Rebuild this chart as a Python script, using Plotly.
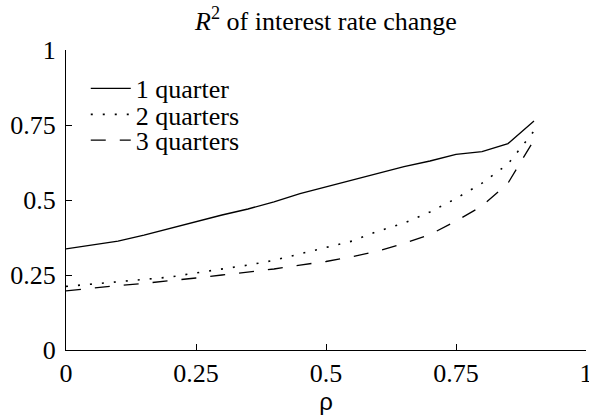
import plotly.graph_objects as go

rho = [0, 0.05, 0.1, 0.15, 0.2, 0.25, 0.3, 0.35, 0.4, 0.45, 0.5,
       0.55, 0.6, 0.65, 0.7, 0.75, 0.8, 0.85, 0.9]
q1 = [0.337, 0.350, 0.363, 0.383, 0.406, 0.428, 0.450, 0.470, 0.494, 0.521, 0.543,
      0.567, 0.589, 0.611, 0.630, 0.652, 0.661, 0.688, 0.763]
q2 = [0.212, 0.220, 0.228, 0.236, 0.243, 0.257, 0.270, 0.283, 0.299, 0.321, 0.342,
      0.363, 0.396, 0.423, 0.460, 0.505, 0.556, 0.620, 0.730]
q3 = [0.197, 0.207, 0.215, 0.222, 0.230, 0.240, 0.250, 0.260, 0.270, 0.283, 0.295,
      0.311, 0.330, 0.355, 0.385, 0.430, 0.480, 0.556, 0.700]
names = ["1 quarter", "2 quarters", "3 quarters"]
tickvals = [0, 0.25, 0.5, 0.75, 1]
ticktext = ["0", "0.25", "0.5", "0.75", "1"]

serif = "Liberation Serif"
FS = 26
serif_font = dict(family=serif, size=FS, color="black")

fig = go.Figure()
fig.add_trace(go.Scatter(x=rho, y=q1, mode="lines", name=names[0], legend="legend",
                         line=dict(color="black", width=1.3)))
fig.add_trace(go.Scatter(x=rho, y=q2, mode="lines", name=names[1], legend="legend2",
                         line=dict(color="black", width=1.6, dash="2px,10px")))
fig.add_trace(go.Scatter(x=rho, y=q3, mode="lines", name=names[2], legend="legend3",
                         line=dict(color="black", width=1.3, dash="15px,14px")))

leg_common = dict(x=0.038, xanchor="left", yanchor="middle",
                  bgcolor="rgba(0,0,0,0)", borderwidth=0,
                  font=serif_font, itemwidth=40)

fig.update_layout(
    width=589, height=420,
    margin=dict(l=66, r=3, t=50, b=70, autoexpand=False),
    paper_bgcolor="white", plot_bgcolor="white",
    font=serif_font,
    title=dict(text="<i>R</i><sup>2</sup> of interest rate change",
               x=0.5, xref="paper", xanchor="center",
               y=0.951, yref="container", yanchor="middle",
               automargin=False, font=serif_font),
    legend=dict(y=0.872, **leg_common),
    legend2=dict(y=0.785, **leg_common),
    legend3=dict(y=0.699, **leg_common),
    showlegend=True,
)
fig.update_xaxes(range=[0, 1], tickvals=tickvals, ticktext=ticktext,
                 tickfont=serif_font, automargin=False,
                 ticklabeloverflow="allow",
                 showgrid=False, zeroline=False, showline=True,
                 linecolor="black", linewidth=1.2,
                 ticks="inside", ticklen=6, tickcolor="black", tickwidth=1.2,
                 ticklabelstandoff=0,
                 title=dict(text="ρ", standoff=0,
                            font=dict(family="Liberation Sans", size=24, color="black")))
fig.update_yaxes(range=[0, 1], tickvals=tickvals, ticktext=ticktext,
                 tickfont=serif_font, automargin=False,
                 showgrid=False, zeroline=False, showline=True,
                 linecolor="black", linewidth=1.2,
                 ticks="inside", ticklen=6, tickcolor="black", tickwidth=1.2,
                 ticklabelstandoff=4)

fig.write_html(
    "out.html",
    config={"displayModeBar": False},
    post_script="document.body.style.margin='0';document.body.style.overflow='hidden';",
)
